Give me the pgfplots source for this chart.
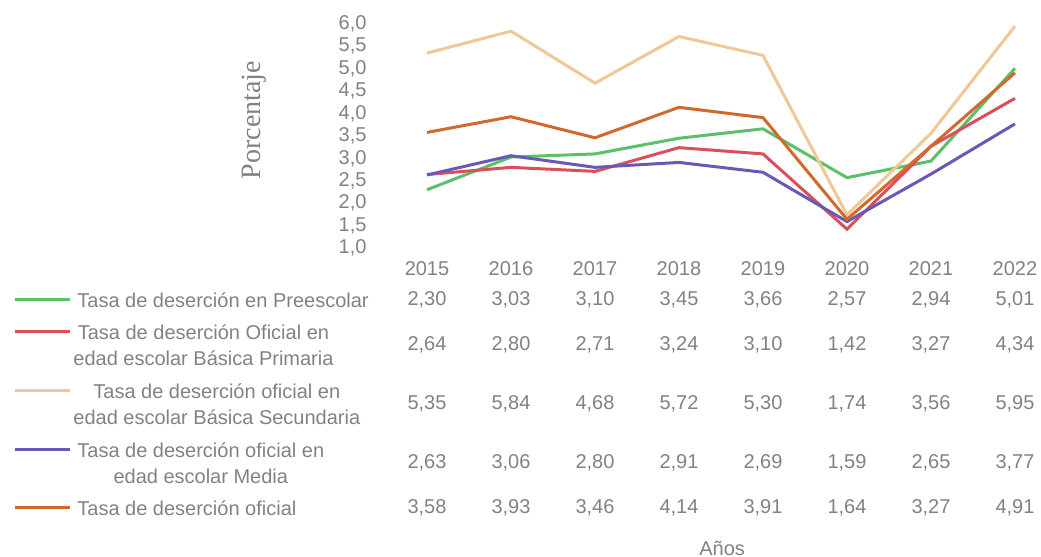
\documentclass[border=0pt]{standalone}
\usepackage{pgfplots}
\usepackage{pgfplotstable}
\pgfplotsset{compat=1.18}
\usepackage{fontspec}
\setmainfont{Liberation Sans}
\newfontfamily\serifa{Liberation Serif}

\definecolor{cPre}{HTML}{5CBF6A}
\definecolor{cPri}{HTML}{D9505A}
\definecolor{cSec}{HTML}{F0C896}
\definecolor{cMed}{HTML}{6A58B8}
\definecolor{cOfi}{HTML}{CF6A2C}
\definecolor{gris}{HTML}{828282}

\pgfkeys{/pgf/number format/assume math mode=true}

% tasas de desercion por anio
\pgfplotstableread{
anio pre  pri  sec  med  ofi
2015 2.30 2.64 5.35 2.63 3.58
2016 3.03 2.80 5.84 3.06 3.93
2017 3.10 2.71 4.68 2.80 3.46
2018 3.45 3.24 5.72 2.91 4.14
2019 3.66 3.10 5.30 2.69 3.91
2020 2.57 1.42 1.74 1.59 1.64
2021 2.94 3.27 3.56 2.65 3.27
2022 5.01 4.34 5.95 3.77 4.91
}\datos

\begin{document}
\fontsize{10}{13}\selectfont
\begin{tikzpicture}[font=\fontsize{10}{13}\selectfont]
\path[use as bounding box] (0,0) rectangle (520.5pt,278.5pt);
\begin{axis}[
    at={(192.5pt,154.5pt)}, anchor=south west,
    scale only axis, width=328pt, height=112pt,
    xmin=2014.5, xmax=2022.31, ymin=1, ymax=6,
    xtick={2015,...,2022},
    ytick={1,1.5,...,6},
    axis line style={draw=none},
    major tick length=0pt,
    clip=false,
    /pgf/number format/assume math mode=true,
    ticklabel style={text=gris},
    xticklabel style={yshift=-3pt, /pgf/number format/1000 sep={}},
    yticklabel style={xshift=-5.7pt, /pgf/number format/.cd, fixed, fixed zerofill, precision=1, use comma},
    ylabel={Porcentaje},
    ylabel style={at={(rel axis cs:-0.2,0.571)}, anchor=center, text=gris, font=\serifa\fontsize{14}{16}\selectfont},
    xlabel={Años},
    xlabel style={at={(rel axis cs:0.514,-1.339)}, anchor=center, text=gris},
]
\addplot[cPre, line width=1.5pt] table[x=anio, y=pre] {\datos};
\addplot[cPri, line width=1.5pt] table[x=anio, y=pri] {\datos};
\addplot[cSec, line width=1.5pt] table[x=anio, y=sec] {\datos};
\addplot[cMed, line width=1.5pt] table[x=anio, y=med] {\datos};
\addplot[cOfi, line width=1.5pt] table[x=anio, y=ofi] {\datos};
\end{axis}

% tabla de datos
\foreach \col/\yy in {pre/128.5, pri/106, sec/76.5, med/47, ofi/24.5}{
  \foreach \i in {0,...,7}{
    \pgfplotstablegetelem{\i}{\col}\of\datos
    \node[text=gris] at ({213.5pt+42pt*\i},\yy pt)
      {\pgfmathprintnumber[fixed, fixed zerofill, precision=2, use comma]{\pgfplotsretval}};
  }
}

% claves de la leyenda
\foreach \c/\yy in {cPre/128.5, cPri/112.5, cSec/83, cMed/53.5, cOfi/24.5}
  \draw[\c, line width=1.5pt] (7.5pt,\yy pt) -- (35pt,\yy pt);

\begin{scope}[every node/.style={anchor=west, align=center, inner sep=0pt, text=gris}]
\node at (38.5pt,128.5pt) {Tasa de deserción en Preescolar};
\node at (36.5pt,106pt) {Tasa de deserción Oficial en\\edad escolar Básica Primaria};
\node at (36.5pt,76.5pt) {Tasa de deserción oficial en\\edad escolar Básica Secundaria};
\node at (38.5pt,47pt) {Tasa de deserción oficial en\\edad escolar Media};
\node at (38.5pt,24.5pt) {Tasa de deserción oficial};
\end{scope}
\end{tikzpicture}
\end{document}
